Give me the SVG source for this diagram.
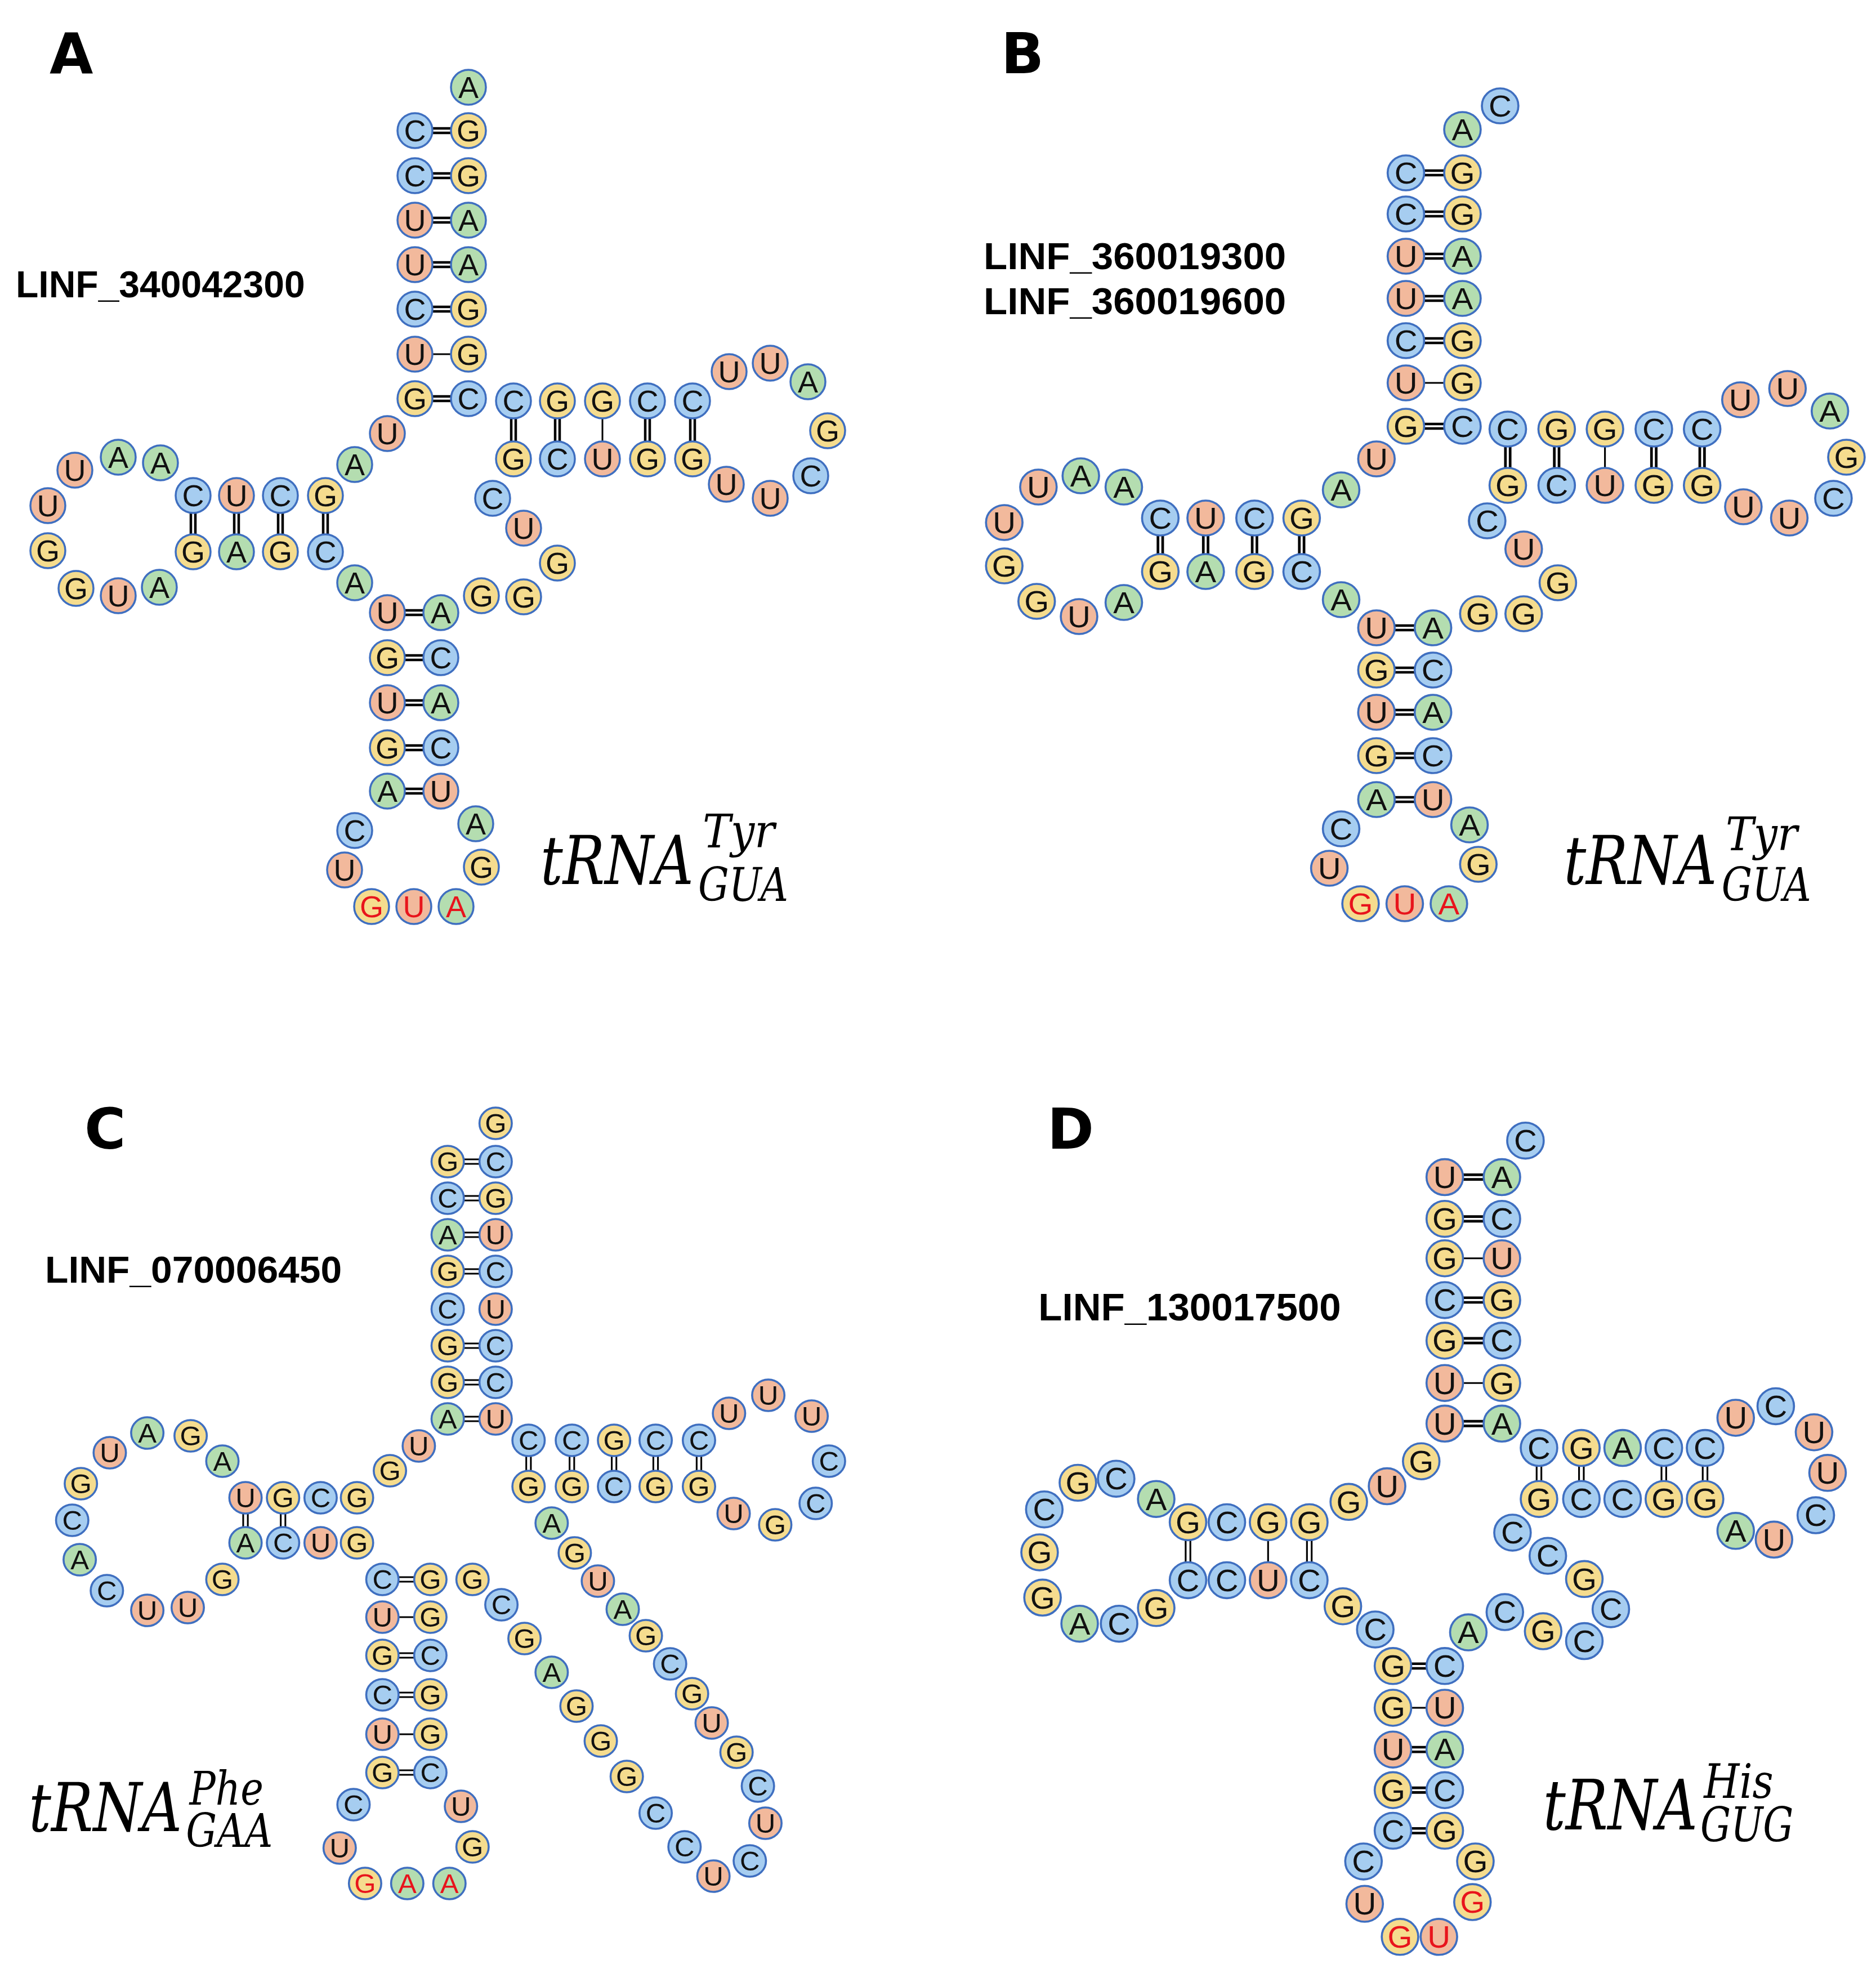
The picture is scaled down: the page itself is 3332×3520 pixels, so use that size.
<svg xmlns="http://www.w3.org/2000/svg" width="3332" height="3520" viewBox="0 0 3332 3520">
<style>
circle{stroke:#3f6fc0;stroke-width:3.5}
.nA{fill:#b4ddb0}.nC{fill:#a6cdf0}.nG{fill:#f5dc8e}.nU{fill:#f2b99c}
.n text{font-family:"Liberation Sans",Arial,sans-serif;font-size:54px;text-anchor:middle;dominant-baseline:central;fill:#111}
.n text.r{fill:#e8141c}
.cP text{font-size:48px}
.bd{stroke:#000;stroke-width:4.5;fill:none}
.bs{stroke:#000;stroke-width:3;fill:none}
.lab{font-family:"DejaVu Sans","Liberation Sans",sans-serif;font-weight:bold;font-size:100px;fill:#000}
.id{font-family:"Liberation Sans",Arial,sans-serif;font-weight:bold;font-size:66px;fill:#000}
.t{font-family:"DejaVu Serif","Liberation Serif",serif;font-style:italic;fill:#000}
</style>
<rect width="3332" height="3520" fill="#fff"/>
<text class="lab" x="88" y="130">A</text>
<text class="lab" x="1778" y="130">B</text>
<text class="lab" x="150" y="2040">C</text>
<text class="lab" x="1860" y="2040">D</text>

<!-- Panel A -->
<g transform="translate(0,100)">
<text class="id" x="28" y="428">LINF_340042300</text>
<text class="t" x="960" y="1470" font-size="120" textLength="272" lengthAdjust="spacingAndGlyphs">tRNA</text>
<text class="t" x="1248" y="1405" font-size="82" textLength="128" lengthAdjust="spacingAndGlyphs">Tyr</text>
<text class="t" x="1240" y="1500" font-size="82" textLength="160" lengthAdjust="spacingAndGlyphs">GUA</text>
<g id="connectorsA">
<path class="bd" d="M768 128H801M768 136H801M768 208H801M768 216H801M768 287H801M768 295H801M768 366H801M768 374H801M768 445H801M768 453H801M768 604H801M768 612H801"/>
<path class="bs" d="M768 529H801"/>
<path class="bd" d="M339 811V849M347 811V849M416 811V849M424 811V849M494 811V849M502 811V849M574 811V849M582 811V849"/>
<path class="bd" d="M719 984H752M719 992H752M719 1064H752M719 1072H752M719 1144H752M719 1152H752M719 1224H752M719 1232H752M719 1301H752M719 1309H752"/>
<path class="bd" d="M908 643V684M916 643V684M986 643V684M994 643V684M1146 643V684M1154 643V684M1226 643V684M1234 643V684"/>
<path class="bs" d="M1070 643V684"/>
</g>
<g class="n">
<g id="a0"><circle class="nA" cx="832" cy="55" r="31"/><text x="832" y="55">A</text></g>
<g id="a1"><circle class="nC" cx="737" cy="132" r="31"/><text x="737" y="132">C</text></g>
<g id="a2"><circle class="nC" cx="737" cy="212" r="31"/><text x="737" y="212">C</text></g>
<g id="a3"><circle class="nU" cx="737" cy="291" r="31"/><text x="737" y="291">U</text></g>
<g id="a4"><circle class="nU" cx="737" cy="370" r="31"/><text x="737" y="370">U</text></g>
<g id="a5"><circle class="nC" cx="737" cy="449" r="31"/><text x="737" y="449">C</text></g>
<g id="a6"><circle class="nU" cx="737" cy="529" r="31"/><text x="737" y="529">U</text></g>
<g id="a7"><circle class="nG" cx="737" cy="608" r="31"/><text x="737" y="608">G</text></g>
<g id="a8"><circle class="nG" cx="832" cy="132" r="31"/><text x="832" y="132">G</text></g>
<g id="a9"><circle class="nG" cx="832" cy="212" r="31"/><text x="832" y="212">G</text></g>
<g id="a10"><circle class="nA" cx="832" cy="291" r="31"/><text x="832" y="291">A</text></g>
<g id="a11"><circle class="nA" cx="832" cy="370" r="31"/><text x="832" y="370">A</text></g>
<g id="a12"><circle class="nG" cx="832" cy="449" r="31"/><text x="832" y="449">G</text></g>
<g id="a13"><circle class="nG" cx="832" cy="529" r="31"/><text x="832" y="529">G</text></g>
<g id="a14"><circle class="nC" cx="832" cy="608" r="31"/><text x="832" y="608">C</text></g>
<g id="a15"><circle class="nU" cx="688" cy="670" r="31"/><text x="688" y="670">U</text></g>
<g id="a16"><circle class="nA" cx="630" cy="725" r="31"/><text x="630" y="725">A</text></g>
<g id="a17"><circle class="nC" cx="343" cy="780" r="31"/><text x="343" y="780">C</text></g>
<g id="a18"><circle class="nU" cx="420" cy="780" r="31"/><text x="420" y="780">U</text></g>
<g id="a19"><circle class="nC" cx="498" cy="780" r="31"/><text x="498" y="780">C</text></g>
<g id="a20"><circle class="nG" cx="578" cy="780" r="31"/><text x="578" y="780">G</text></g>
<g id="a21"><circle class="nG" cx="343" cy="880" r="31"/><text x="343" y="880">G</text></g>
<g id="a22"><circle class="nA" cx="420" cy="880" r="31"/><text x="420" y="880">A</text></g>
<g id="a23"><circle class="nG" cx="498" cy="880" r="31"/><text x="498" y="880">G</text></g>
<g id="a24"><circle class="nC" cx="578" cy="880" r="31"/><text x="578" y="880">C</text></g>
<g id="a25"><circle class="nA" cx="285" cy="722" r="31"/><text x="285" y="722">A</text></g>
<g id="a26"><circle class="nA" cx="210" cy="712" r="31"/><text x="210" y="712">A</text></g>
<g id="a27"><circle class="nU" cx="133" cy="735" r="31"/><text x="133" y="735">U</text></g>
<g id="a28"><circle class="nU" cx="85" cy="798" r="31"/><text x="85" y="798">U</text></g>
<g id="a29"><circle class="nG" cx="85" cy="878" r="31"/><text x="85" y="878">G</text></g>
<g id="a30"><circle class="nG" cx="135" cy="945" r="31"/><text x="135" y="945">G</text></g>
<g id="a31"><circle class="nU" cx="210" cy="958" r="31"/><text x="210" y="958">U</text></g>
<g id="a32"><circle class="nA" cx="283" cy="943" r="31"/><text x="283" y="943">A</text></g>
<g id="a33"><circle class="nA" cx="630" cy="935" r="31"/><text x="630" y="935">A</text></g>
<g id="a34"><circle class="nU" cx="688" cy="988" r="31"/><text x="688" y="988">U</text></g>
<g id="a35"><circle class="nG" cx="688" cy="1068" r="31"/><text x="688" y="1068">G</text></g>
<g id="a36"><circle class="nU" cx="688" cy="1148" r="31"/><text x="688" y="1148">U</text></g>
<g id="a37"><circle class="nG" cx="688" cy="1228" r="31"/><text x="688" y="1228">G</text></g>
<g id="a38"><circle class="nA" cx="688" cy="1305" r="31"/><text x="688" y="1305">A</text></g>
<g id="a39"><circle class="nA" cx="783" cy="988" r="31"/><text x="783" y="988">A</text></g>
<g id="a40"><circle class="nC" cx="783" cy="1068" r="31"/><text x="783" y="1068">C</text></g>
<g id="a41"><circle class="nA" cx="783" cy="1148" r="31"/><text x="783" y="1148">A</text></g>
<g id="a42"><circle class="nC" cx="783" cy="1228" r="31"/><text x="783" y="1228">C</text></g>
<g id="a43"><circle class="nU" cx="783" cy="1305" r="31"/><text x="783" y="1305">U</text></g>
<g id="a44"><circle class="nC" cx="630" cy="1375" r="31"/><text x="630" y="1375">C</text></g>
<g id="a45"><circle class="nU" cx="612" cy="1445" r="31"/><text x="612" y="1445">U</text></g>
<g id="a46"><circle class="nG" cx="660" cy="1510" r="31"/><text class="r" x="660" y="1510">G</text></g>
<g id="a47"><circle class="nU" cx="735" cy="1510" r="31"/><text class="r" x="735" y="1510">U</text></g>
<g id="a48"><circle class="nA" cx="810" cy="1510" r="31"/><text class="r" x="810" y="1510">A</text></g>
<g id="a49"><circle class="nG" cx="855" cy="1440" r="31"/><text x="855" y="1440">G</text></g>
<g id="a50"><circle class="nA" cx="845" cy="1363" r="31"/><text x="845" y="1363">A</text></g>
<g id="a51"><circle class="nG" cx="855" cy="958" r="31"/><text x="855" y="958">G</text></g>
<g id="a52"><circle class="nG" cx="930" cy="960" r="31"/><text x="930" y="960">G</text></g>
<g id="a53"><circle class="nG" cx="990" cy="900" r="31"/><text x="990" y="900">G</text></g>
<g id="a54"><circle class="nU" cx="930" cy="838" r="31"/><text x="930" y="838">U</text></g>
<g id="a55"><circle class="nC" cx="875" cy="785" r="31"/><text x="875" y="785">C</text></g>
<g id="a56"><circle class="nC" cx="912" cy="612" r="31"/><text x="912" y="612">C</text></g>
<g id="a57"><circle class="nG" cx="990" cy="612" r="31"/><text x="990" y="612">G</text></g>
<g id="a58"><circle class="nG" cx="1070" cy="612" r="31"/><text x="1070" y="612">G</text></g>
<g id="a59"><circle class="nC" cx="1150" cy="612" r="31"/><text x="1150" y="612">C</text></g>
<g id="a60"><circle class="nC" cx="1230" cy="612" r="31"/><text x="1230" y="612">C</text></g>
<g id="a61"><circle class="nG" cx="912" cy="715" r="31"/><text x="912" y="715">G</text></g>
<g id="a62"><circle class="nC" cx="990" cy="715" r="31"/><text x="990" y="715">C</text></g>
<g id="a63"><circle class="nU" cx="1070" cy="715" r="31"/><text x="1070" y="715">U</text></g>
<g id="a64"><circle class="nG" cx="1150" cy="715" r="31"/><text x="1150" y="715">G</text></g>
<g id="a65"><circle class="nG" cx="1230" cy="715" r="31"/><text x="1230" y="715">G</text></g>
<g id="a66"><circle class="nU" cx="1295" cy="560" r="31"/><text x="1295" y="560">U</text></g>
<g id="a67"><circle class="nU" cx="1368" cy="545" r="31"/><text x="1368" y="545">U</text></g>
<g id="a68"><circle class="nA" cx="1435" cy="578" r="31"/><text x="1435" y="578">A</text></g>
<g id="a69"><circle class="nG" cx="1470" cy="665" r="31"/><text x="1470" y="665">G</text></g>
<g id="a70"><circle class="nC" cx="1440" cy="745" r="31"/><text x="1440" y="745">C</text></g>
<g id="a71"><circle class="nU" cx="1368" cy="785" r="31"/><text x="1368" y="785">U</text></g>
<g id="a72"><circle class="nU" cx="1290" cy="760" r="31"/><text x="1290" y="760">U</text></g>
</g>
</g>

<!-- Panel B -->
<g transform="translate(1700,100) scale(1.046,1)">
<text class="id" x="45" y="378">LINF_360019300</text>
<text class="id" x="45" y="458">LINF_360019600</text>
<text class="t" x="1030" y="1470" font-size="120" textLength="260" lengthAdjust="spacingAndGlyphs">tRNA</text>
<text class="t" x="1305" y="1410" font-size="82" textLength="122" lengthAdjust="spacingAndGlyphs">Tyr</text>
<text class="t" x="1298" y="1500" font-size="82" textLength="152" lengthAdjust="spacingAndGlyphs">GUA</text>
<g id="connectorsB">
<path class="bd" d="M793 203H827M793 211H827M793 276H827M793 284H827M793 351H827M793 359H827M793 426H827M793 434H827M793 501H827M793 509H827M793 653H827M793 661H827"/>
<path class="bs" d="M793 580H827"/>
<path class="bd" d="M341 851V884M349 851V884M418 851V884M426 851V884M501 851V884M509 851V884M581 851V884M589 851V884"/>
<path class="bd" d="M743 1011H777M743 1019H777M743 1086H777M743 1094H777M743 1161H777M743 1169H777M743 1238H777M743 1246H777M743 1316H777M743 1324H777"/>
<path class="bd" d="M931 693V731M939 693V731M1014 693V731M1022 693V731M1179 693V731M1187 693V731M1261 693V731M1269 693V731"/>
<path class="bs" d="M1100 693V731"/>
</g>
<g class="n">
<g id="b0"><circle class="nC" cx="922" cy="88" r="31"/><text x="922" y="88">C</text></g>
<g id="b1"><circle class="nA" cx="858" cy="130" r="31"/><text x="858" y="130">A</text></g>
<g id="b2"><circle class="nC" cx="762" cy="207" r="31"/><text x="762" y="207">C</text></g>
<g id="b3"><circle class="nC" cx="762" cy="280" r="31"/><text x="762" y="280">C</text></g>
<g id="b4"><circle class="nU" cx="762" cy="355" r="31"/><text x="762" y="355">U</text></g>
<g id="b5"><circle class="nU" cx="762" cy="430" r="31"/><text x="762" y="430">U</text></g>
<g id="b6"><circle class="nC" cx="762" cy="505" r="31"/><text x="762" y="505">C</text></g>
<g id="b7"><circle class="nU" cx="762" cy="580" r="31"/><text x="762" y="580">U</text></g>
<g id="b8"><circle class="nG" cx="762" cy="657" r="31"/><text x="762" y="657">G</text></g>
<g id="b9"><circle class="nG" cx="858" cy="207" r="31"/><text x="858" y="207">G</text></g>
<g id="b10"><circle class="nG" cx="858" cy="280" r="31"/><text x="858" y="280">G</text></g>
<g id="b11"><circle class="nA" cx="858" cy="355" r="31"/><text x="858" y="355">A</text></g>
<g id="b12"><circle class="nA" cx="858" cy="430" r="31"/><text x="858" y="430">A</text></g>
<g id="b13"><circle class="nG" cx="858" cy="505" r="31"/><text x="858" y="505">G</text></g>
<g id="b14"><circle class="nG" cx="858" cy="580" r="31"/><text x="858" y="580">G</text></g>
<g id="b15"><circle class="nC" cx="858" cy="657" r="31"/><text x="858" y="657">C</text></g>
<g id="b16"><circle class="nU" cx="712" cy="715" r="31"/><text x="712" y="715">U</text></g>
<g id="b17"><circle class="nA" cx="652" cy="770" r="31"/><text x="652" y="770">A</text></g>
<g id="b18"><circle class="nC" cx="345" cy="820" r="31"/><text x="345" y="820">C</text></g>
<g id="b19"><circle class="nU" cx="422" cy="820" r="31"/><text x="422" y="820">U</text></g>
<g id="b20"><circle class="nC" cx="505" cy="820" r="31"/><text x="505" y="820">C</text></g>
<g id="b21"><circle class="nG" cx="585" cy="820" r="31"/><text x="585" y="820">G</text></g>
<g id="b22"><circle class="nG" cx="345" cy="915" r="31"/><text x="345" y="915">G</text></g>
<g id="b23"><circle class="nA" cx="422" cy="915" r="31"/><text x="422" y="915">A</text></g>
<g id="b24"><circle class="nG" cx="505" cy="915" r="31"/><text x="505" y="915">G</text></g>
<g id="b25"><circle class="nC" cx="585" cy="915" r="31"/><text x="585" y="915">C</text></g>
<g id="b26"><circle class="nA" cx="283" cy="765" r="31"/><text x="283" y="765">A</text></g>
<g id="b27"><circle class="nA" cx="210" cy="745" r="31"/><text x="210" y="745">A</text></g>
<g id="b28"><circle class="nU" cx="138" cy="765" r="31"/><text x="138" y="765">U</text></g>
<g id="b29"><circle class="nU" cx="80" cy="828" r="31"/><text x="80" y="828">U</text></g>
<g id="b30"><circle class="nG" cx="80" cy="905" r="31"/><text x="80" y="905">G</text></g>
<g id="b31"><circle class="nG" cx="135" cy="968" r="31"/><text x="135" y="968">G</text></g>
<g id="b32"><circle class="nU" cx="207" cy="995" r="31"/><text x="207" y="995">U</text></g>
<g id="b33"><circle class="nA" cx="283" cy="970" r="31"/><text x="283" y="970">A</text></g>
<g id="b34"><circle class="nA" cx="652" cy="965" r="31"/><text x="652" y="965">A</text></g>
<g id="b35"><circle class="nU" cx="712" cy="1015" r="31"/><text x="712" y="1015">U</text></g>
<g id="b36"><circle class="nG" cx="712" cy="1090" r="31"/><text x="712" y="1090">G</text></g>
<g id="b37"><circle class="nU" cx="712" cy="1165" r="31"/><text x="712" y="1165">U</text></g>
<g id="b38"><circle class="nG" cx="712" cy="1242" r="31"/><text x="712" y="1242">G</text></g>
<g id="b39"><circle class="nA" cx="712" cy="1320" r="31"/><text x="712" y="1320">A</text></g>
<g id="b40"><circle class="nA" cx="808" cy="1015" r="31"/><text x="808" y="1015">A</text></g>
<g id="b41"><circle class="nC" cx="808" cy="1090" r="31"/><text x="808" y="1090">C</text></g>
<g id="b42"><circle class="nA" cx="808" cy="1165" r="31"/><text x="808" y="1165">A</text></g>
<g id="b43"><circle class="nC" cx="808" cy="1242" r="31"/><text x="808" y="1242">C</text></g>
<g id="b44"><circle class="nU" cx="808" cy="1320" r="31"/><text x="808" y="1320">U</text></g>
<g id="b45"><circle class="nC" cx="652" cy="1372" r="31"/><text x="652" y="1372">C</text></g>
<g id="b46"><circle class="nU" cx="632" cy="1442" r="31"/><text x="632" y="1442">U</text></g>
<g id="b47"><circle class="nG" cx="685" cy="1505" r="31"/><text class="r" x="685" y="1505">G</text></g>
<g id="b48"><circle class="nU" cx="760" cy="1505" r="31"/><text class="r" x="760" y="1505">U</text></g>
<g id="b49"><circle class="nA" cx="835" cy="1505" r="31"/><text class="r" x="835" y="1505">A</text></g>
<g id="b50"><circle class="nG" cx="885" cy="1435" r="31"/><text x="885" y="1435">G</text></g>
<g id="b51"><circle class="nA" cx="870" cy="1365" r="31"/><text x="870" y="1365">A</text></g>
<g id="b52"><circle class="nG" cx="885" cy="990" r="31"/><text x="885" y="990">G</text></g>
<g id="b53"><circle class="nG" cx="962" cy="990" r="31"/><text x="962" y="990">G</text></g>
<g id="b54"><circle class="nG" cx="1020" cy="935" r="31"/><text x="1020" y="935">G</text></g>
<g id="b55"><circle class="nU" cx="962" cy="875" r="31"/><text x="962" y="875">U</text></g>
<g id="b56"><circle class="nC" cx="900" cy="825" r="31"/><text x="900" y="825">C</text></g>
<g id="b57"><circle class="nC" cx="935" cy="662" r="31"/><text x="935" y="662">C</text></g>
<g id="b58"><circle class="nG" cx="1018" cy="662" r="31"/><text x="1018" y="662">G</text></g>
<g id="b59"><circle class="nG" cx="1100" cy="662" r="31"/><text x="1100" y="662">G</text></g>
<g id="b60"><circle class="nC" cx="1183" cy="662" r="31"/><text x="1183" y="662">C</text></g>
<g id="b61"><circle class="nC" cx="1265" cy="662" r="31"/><text x="1265" y="662">C</text></g>
<g id="b62"><circle class="nG" cx="935" cy="762" r="31"/><text x="935" y="762">G</text></g>
<g id="b63"><circle class="nC" cx="1018" cy="762" r="31"/><text x="1018" y="762">C</text></g>
<g id="b64"><circle class="nU" cx="1100" cy="762" r="31"/><text x="1100" y="762">U</text></g>
<g id="b65"><circle class="nG" cx="1183" cy="762" r="31"/><text x="1183" y="762">G</text></g>
<g id="b66"><circle class="nG" cx="1265" cy="762" r="31"/><text x="1265" y="762">G</text></g>
<g id="b67"><circle class="nU" cx="1330" cy="610" r="31"/><text x="1330" y="610">U</text></g>
<g id="b68"><circle class="nU" cx="1410" cy="590" r="31"/><text x="1410" y="590">U</text></g>
<g id="b69"><circle class="nA" cx="1482" cy="630" r="31"/><text x="1482" y="630">A</text></g>
<g id="b70"><circle class="nG" cx="1510" cy="712" r="31"/><text x="1510" y="712">G</text></g>
<g id="b71"><circle class="nC" cx="1488" cy="785" r="31"/><text x="1488" y="785">C</text></g>
<g id="b72"><circle class="nU" cx="1413" cy="820" r="31"/><text x="1413" y="820">U</text></g>
<g id="b73"><circle class="nU" cx="1335" cy="800" r="31"/><text x="1335" y="800">U</text></g>
</g>
</g>

<!-- Panel C -->
<g transform="translate(0,1900) scale(1.026,1)">
<text class="id" x="78" y="378">LINF_070006450</text>
<text class="t" x="50" y="1352" font-size="120" textLength="265" lengthAdjust="spacingAndGlyphs">tRNA</text>
<text class="t" x="328" y="1305" font-size="82" textLength="128" lengthAdjust="spacingAndGlyphs">Phe</text>
<text class="t" x="322" y="1380" font-size="82" textLength="150" lengthAdjust="spacingAndGlyphs">GAA</text>
<g id="connectorsC">
<path class="bs" d="M804 159H830M804 167H830M804 224H830M804 232H830M804 289H830M804 297H830M804 354H830M804 362H830M804 486H830M804 494H830M804 551H830M804 559H830M804 616H830M804 624H830"/>
<path class="bs" d="M421 789V811M429 789V811M486 789V811M494 789V811"/>
<path class="bs" d="M691 901H717M691 909H717M691 1036H717M691 1044H717M691 1106H717M691 1114H717M691 1244H717M691 1252H717M691 972H717M691 1180H717"/>
<path class="bs" d="M911 687V711M919 687V711M986 687V711M994 687V711M1059 687V711M1067 687V711M1131 687V711M1139 687V711M1206 687V711M1214 687V711"/>
</g>
<g class="n cP">
<g id="c0"><circle class="nG" cx="858" cy="95" r="28"/><text x="858" y="95">G</text></g>
<g id="c1"><circle class="nG" cx="775" cy="163" r="28"/><text x="775" y="163">G</text></g>
<g id="c2"><circle class="nC" cx="775" cy="228" r="28"/><text x="775" y="228">C</text></g>
<g id="c3"><circle class="nA" cx="775" cy="293" r="28"/><text x="775" y="293">A</text></g>
<g id="c4"><circle class="nG" cx="775" cy="358" r="28"/><text x="775" y="358">G</text></g>
<g id="c5"><circle class="nC" cx="775" cy="425" r="28"/><text x="775" y="425">C</text></g>
<g id="c6"><circle class="nG" cx="775" cy="490" r="28"/><text x="775" y="490">G</text></g>
<g id="c7"><circle class="nG" cx="775" cy="555" r="28"/><text x="775" y="555">G</text></g>
<g id="c8"><circle class="nA" cx="775" cy="620" r="28"/><text x="775" y="620">A</text></g>
<g id="c9"><circle class="nC" cx="858" cy="163" r="28"/><text x="858" y="163">C</text></g>
<g id="c10"><circle class="nG" cx="858" cy="228" r="28"/><text x="858" y="228">G</text></g>
<g id="c11"><circle class="nU" cx="858" cy="293" r="28"/><text x="858" y="293">U</text></g>
<g id="c12"><circle class="nC" cx="858" cy="358" r="28"/><text x="858" y="358">C</text></g>
<g id="c13"><circle class="nU" cx="858" cy="425" r="28"/><text x="858" y="425">U</text></g>
<g id="c14"><circle class="nC" cx="858" cy="490" r="28"/><text x="858" y="490">C</text></g>
<g id="c15"><circle class="nC" cx="858" cy="555" r="28"/><text x="858" y="555">C</text></g>
<g id="c16"><circle class="nU" cx="858" cy="620" r="28"/><text x="858" y="620">U</text></g>
<g id="c17"><circle class="nU" cx="725" cy="668" r="28"/><text x="725" y="668">U</text></g>
<g id="c18"><circle class="nG" cx="675" cy="712" r="28"/><text x="675" y="712">G</text></g>
<g id="c19"><circle class="nU" cx="425" cy="760" r="28"/><text x="425" y="760">U</text></g>
<g id="c20"><circle class="nG" cx="490" cy="760" r="28"/><text x="490" y="760">G</text></g>
<g id="c21"><circle class="nC" cx="555" cy="760" r="28"/><text x="555" y="760">C</text></g>
<g id="c22"><circle class="nG" cx="618" cy="760" r="28"/><text x="618" y="760">G</text></g>
<g id="c23"><circle class="nA" cx="425" cy="840" r="28"/><text x="425" y="840">A</text></g>
<g id="c24"><circle class="nC" cx="490" cy="840" r="28"/><text x="490" y="840">C</text></g>
<g id="c25"><circle class="nU" cx="555" cy="840" r="28"/><text x="555" y="840">U</text></g>
<g id="c26"><circle class="nG" cx="618" cy="840" r="28"/><text x="618" y="840">G</text></g>
<g id="c27"><circle class="nA" cx="385" cy="695" r="28"/><text x="385" y="695">A</text></g>
<g id="c28"><circle class="nG" cx="330" cy="650" r="28"/><text x="330" y="650">G</text></g>
<g id="c29"><circle class="nA" cx="255" cy="645" r="28"/><text x="255" y="645">A</text></g>
<g id="c30"><circle class="nU" cx="190" cy="680" r="28"/><text x="190" y="680">U</text></g>
<g id="c31"><circle class="nG" cx="140" cy="735" r="28"/><text x="140" y="735">G</text></g>
<g id="c32"><circle class="nC" cx="125" cy="800" r="28"/><text x="125" y="800">C</text></g>
<g id="c33"><circle class="nA" cx="138" cy="870" r="28"/><text x="138" y="870">A</text></g>
<g id="c34"><circle class="nC" cx="185" cy="925" r="28"/><text x="185" y="925">C</text></g>
<g id="c35"><circle class="nU" cx="255" cy="960" r="28"/><text x="255" y="960">U</text></g>
<g id="c36"><circle class="nU" cx="325" cy="955" r="28"/><text x="325" y="955">U</text></g>
<g id="c37"><circle class="nG" cx="385" cy="905" r="28"/><text x="385" y="905">G</text></g>
<g id="c38"><circle class="nC" cx="662" cy="905" r="28"/><text x="662" y="905">C</text></g>
<g id="c39"><circle class="nU" cx="662" cy="972" r="28"/><text x="662" y="972">U</text></g>
<g id="c40"><circle class="nG" cx="662" cy="1040" r="28"/><text x="662" y="1040">G</text></g>
<g id="c41"><circle class="nC" cx="662" cy="1110" r="28"/><text x="662" y="1110">C</text></g>
<g id="c42"><circle class="nU" cx="662" cy="1180" r="28"/><text x="662" y="1180">U</text></g>
<g id="c43"><circle class="nG" cx="662" cy="1248" r="28"/><text x="662" y="1248">G</text></g>
<g id="c44"><circle class="nG" cx="745" cy="905" r="28"/><text x="745" y="905">G</text></g>
<g id="c45"><circle class="nG" cx="745" cy="972" r="28"/><text x="745" y="972">G</text></g>
<g id="c46"><circle class="nC" cx="745" cy="1040" r="28"/><text x="745" y="1040">C</text></g>
<g id="c47"><circle class="nG" cx="745" cy="1110" r="28"/><text x="745" y="1110">G</text></g>
<g id="c48"><circle class="nG" cx="745" cy="1180" r="28"/><text x="745" y="1180">G</text></g>
<g id="c49"><circle class="nC" cx="745" cy="1248" r="28"/><text x="745" y="1248">C</text></g>
<g id="c50"><circle class="nC" cx="612" cy="1305" r="28"/><text x="612" y="1305">C</text></g>
<g id="c51"><circle class="nU" cx="588" cy="1382" r="28"/><text x="588" y="1382">U</text></g>
<g id="c52"><circle class="nG" cx="632" cy="1445" r="28"/><text class="r" x="632" y="1445">G</text></g>
<g id="c53"><circle class="nA" cx="705" cy="1445" r="28"/><text class="r" x="705" y="1445">A</text></g>
<g id="c54"><circle class="nA" cx="778" cy="1445" r="28"/><text class="r" x="778" y="1445">A</text></g>
<g id="c55"><circle class="nG" cx="818" cy="1380" r="28"/><text x="818" y="1380">G</text></g>
<g id="c56"><circle class="nU" cx="798" cy="1308" r="28"/><text x="798" y="1308">U</text></g>
<g id="c57"><circle class="nG" cx="818" cy="905" r="28"/><text x="818" y="905">G</text></g>
<g id="c58"><circle class="nC" cx="868" cy="950" r="28"/><text x="868" y="950">C</text></g>
<g id="c59"><circle class="nG" cx="908" cy="1010" r="28"/><text x="908" y="1010">G</text></g>
<g id="c60"><circle class="nA" cx="955" cy="1070" r="28"/><text x="955" y="1070">A</text></g>
<g id="c61"><circle class="nG" cx="998" cy="1130" r="28"/><text x="998" y="1130">G</text></g>
<g id="c62"><circle class="nG" cx="1040" cy="1192" r="28"/><text x="1040" y="1192">G</text></g>
<g id="c63"><circle class="nG" cx="1085" cy="1255" r="28"/><text x="1085" y="1255">G</text></g>
<g id="c64"><circle class="nC" cx="1135" cy="1320" r="28"/><text x="1135" y="1320">C</text></g>
<g id="c65"><circle class="nC" cx="1185" cy="1380" r="28"/><text x="1185" y="1380">C</text></g>
<g id="c66"><circle class="nU" cx="1235" cy="1432" r="28"/><text x="1235" y="1432">U</text></g>
<g id="c67"><circle class="nC" cx="1298" cy="1405" r="28"/><text x="1298" y="1405">C</text></g>
<g id="c68"><circle class="nU" cx="1325" cy="1338" r="28"/><text x="1325" y="1338">U</text></g>
<g id="c69"><circle class="nC" cx="1312" cy="1272" r="28"/><text x="1312" y="1272">C</text></g>
<g id="c70"><circle class="nG" cx="1275" cy="1212" r="28"/><text x="1275" y="1212">G</text></g>
<g id="c71"><circle class="nU" cx="1232" cy="1160" r="28"/><text x="1232" y="1160">U</text></g>
<g id="c72"><circle class="nG" cx="1198" cy="1108" r="28"/><text x="1198" y="1108">G</text></g>
<g id="c73"><circle class="nC" cx="1160" cy="1055" r="28"/><text x="1160" y="1055">C</text></g>
<g id="c74"><circle class="nG" cx="1118" cy="1005" r="28"/><text x="1118" y="1005">G</text></g>
<g id="c75"><circle class="nA" cx="1078" cy="958" r="28"/><text x="1078" y="958">A</text></g>
<g id="c76"><circle class="nU" cx="1035" cy="908" r="28"/><text x="1035" y="908">U</text></g>
<g id="c77"><circle class="nG" cx="995" cy="858" r="28"/><text x="995" y="858">G</text></g>
<g id="c78"><circle class="nA" cx="955" cy="805" r="28"/><text x="955" y="805">A</text></g>
<g id="c79"><circle class="nC" cx="915" cy="658" r="28"/><text x="915" y="658">C</text></g>
<g id="c80"><circle class="nC" cx="990" cy="658" r="28"/><text x="990" y="658">C</text></g>
<g id="c81"><circle class="nG" cx="1063" cy="658" r="28"/><text x="1063" y="658">G</text></g>
<g id="c82"><circle class="nC" cx="1135" cy="658" r="28"/><text x="1135" y="658">C</text></g>
<g id="c83"><circle class="nC" cx="1210" cy="658" r="28"/><text x="1210" y="658">C</text></g>
<g id="c84"><circle class="nG" cx="915" cy="740" r="28"/><text x="915" y="740">G</text></g>
<g id="c85"><circle class="nG" cx="990" cy="740" r="28"/><text x="990" y="740">G</text></g>
<g id="c86"><circle class="nC" cx="1063" cy="740" r="28"/><text x="1063" y="740">C</text></g>
<g id="c87"><circle class="nG" cx="1135" cy="740" r="28"/><text x="1135" y="740">G</text></g>
<g id="c88"><circle class="nG" cx="1210" cy="740" r="28"/><text x="1210" y="740">G</text></g>
<g id="c89"><circle class="nU" cx="1262" cy="610" r="28"/><text x="1262" y="610">U</text></g>
<g id="c90"><circle class="nU" cx="1330" cy="578" r="28"/><text x="1330" y="578">U</text></g>
<g id="c91"><circle class="nU" cx="1405" cy="615" r="28"/><text x="1405" y="615">U</text></g>
<g id="c92"><circle class="nC" cx="1435" cy="695" r="28"/><text x="1435" y="695">C</text></g>
<g id="c93"><circle class="nC" cx="1412" cy="770" r="28"/><text x="1412" y="770">C</text></g>
<g id="c94"><circle class="nG" cx="1342" cy="808" r="28"/><text x="1342" y="808">G</text></g>
<g id="c95"><circle class="nU" cx="1270" cy="788" r="28"/><text x="1270" y="788">U</text></g>
</g>
</g>

<!-- Panel D -->
<g transform="translate(1700,1900) scale(1.046,1.03)">
<text class="id" x="138" y="432">LINF_130017500</text>
<text class="t" x="995" y="1310" font-size="120" textLength="262" lengthAdjust="spacingAndGlyphs">tRNA</text>
<text class="t" x="1268" y="1255" font-size="82" textLength="118" lengthAdjust="spacingAndGlyphs">His</text>
<text class="t" x="1262" y="1330" font-size="82" textLength="158" lengthAdjust="spacingAndGlyphs">GUG</text>
<g id="connectorsD">
<path class="bd" d="M859 181H894M859 189H894M859 253H894M859 261H894M859 393H894M859 401H894M859 463H894M859 471H894M859 606H894M859 614H894"/>
<path class="bs" d="M859 325H894M859 540H894"/>
<path class="bs" d="M388 811V849M396 811V849M594 811V849M602 811V849M528 811V849"/>
<path class="bd" d="M771 1024H797M771 1032H797M771 1168H797M771 1176H797M771 1238H797M771 1246H797M771 1308H797M771 1316H797"/>
<path class="bs" d="M771 1100H797"/>
<path class="bs" d="M984 683V709M992 683V709M1056 683V709M1064 683V709M1196 683V709M1204 683V709M1266 683V709M1274 683V709"/>
</g>
<g class="n">
<g id="d0"><circle class="nC" cx="965" cy="122" r="31"/><text x="965" y="122">C</text></g>
<g id="d1"><circle class="nU" cx="828" cy="185" r="31"/><text x="828" y="185">U</text></g>
<g id="d2"><circle class="nG" cx="828" cy="257" r="31"/><text x="828" y="257">G</text></g>
<g id="d3"><circle class="nG" cx="828" cy="325" r="31"/><text x="828" y="325">G</text></g>
<g id="d4"><circle class="nC" cx="828" cy="397" r="31"/><text x="828" y="397">C</text></g>
<g id="d5"><circle class="nG" cx="828" cy="467" r="31"/><text x="828" y="467">G</text></g>
<g id="d6"><circle class="nU" cx="828" cy="540" r="31"/><text x="828" y="540">U</text></g>
<g id="d7"><circle class="nU" cx="828" cy="610" r="31"/><text x="828" y="610">U</text></g>
<g id="d8"><circle class="nA" cx="925" cy="185" r="31"/><text x="925" y="185">A</text></g>
<g id="d9"><circle class="nC" cx="925" cy="257" r="31"/><text x="925" y="257">C</text></g>
<g id="d10"><circle class="nU" cx="925" cy="325" r="31"/><text x="925" y="325">U</text></g>
<g id="d11"><circle class="nG" cx="925" cy="397" r="31"/><text x="925" y="397">G</text></g>
<g id="d12"><circle class="nC" cx="925" cy="467" r="31"/><text x="925" y="467">C</text></g>
<g id="d13"><circle class="nG" cx="925" cy="540" r="31"/><text x="925" y="540">G</text></g>
<g id="d14"><circle class="nA" cx="925" cy="610" r="31"/><text x="925" y="610">A</text></g>
<g id="d15"><circle class="nG" cx="788" cy="675" r="31"/><text x="788" y="675">G</text></g>
<g id="d16"><circle class="nU" cx="730" cy="718" r="31"/><text x="730" y="718">U</text></g>
<g id="d17"><circle class="nG" cx="665" cy="745" r="31"/><text x="665" y="745">G</text></g>
<g id="d18"><circle class="nG" cx="392" cy="780" r="31"/><text x="392" y="780">G</text></g>
<g id="d19"><circle class="nC" cx="458" cy="780" r="31"/><text x="458" y="780">C</text></g>
<g id="d20"><circle class="nG" cx="528" cy="780" r="31"/><text x="528" y="780">G</text></g>
<g id="d21"><circle class="nG" cx="598" cy="780" r="31"/><text x="598" y="780">G</text></g>
<g id="d22"><circle class="nC" cx="392" cy="880" r="31"/><text x="392" y="880">C</text></g>
<g id="d23"><circle class="nC" cx="458" cy="880" r="31"/><text x="458" y="880">C</text></g>
<g id="d24"><circle class="nU" cx="528" cy="880" r="31"/><text x="528" y="880">U</text></g>
<g id="d25"><circle class="nC" cx="598" cy="880" r="31"/><text x="598" y="880">C</text></g>
<g id="d26"><circle class="nA" cx="338" cy="740" r="31"/><text x="338" y="740">A</text></g>
<g id="d27"><circle class="nC" cx="270" cy="705" r="31"/><text x="270" y="705">C</text></g>
<g id="d28"><circle class="nG" cx="205" cy="712" r="31"/><text x="205" y="712">G</text></g>
<g id="d29"><circle class="nC" cx="148" cy="758" r="31"/><text x="148" y="758">C</text></g>
<g id="d30"><circle class="nG" cx="140" cy="832" r="31"/><text x="140" y="832">G</text></g>
<g id="d31"><circle class="nG" cx="145" cy="910" r="31"/><text x="145" y="910">G</text></g>
<g id="d32"><circle class="nA" cx="208" cy="955" r="31"/><text x="208" y="955">A</text></g>
<g id="d33"><circle class="nC" cx="275" cy="955" r="31"/><text x="275" y="955">C</text></g>
<g id="d34"><circle class="nG" cx="338" cy="928" r="31"/><text x="338" y="928">G</text></g>
<g id="d35"><circle class="nG" cx="655" cy="925" r="31"/><text x="655" y="925">G</text></g>
<g id="d36"><circle class="nC" cx="710" cy="965" r="31"/><text x="710" y="965">C</text></g>
<g id="d37"><circle class="nG" cx="740" cy="1028" r="31"/><text x="740" y="1028">G</text></g>
<g id="d38"><circle class="nG" cx="740" cy="1100" r="31"/><text x="740" y="1100">G</text></g>
<g id="d39"><circle class="nU" cx="740" cy="1172" r="31"/><text x="740" y="1172">U</text></g>
<g id="d40"><circle class="nG" cx="740" cy="1242" r="31"/><text x="740" y="1242">G</text></g>
<g id="d41"><circle class="nC" cx="740" cy="1312" r="31"/><text x="740" y="1312">C</text></g>
<g id="d42"><circle class="nC" cx="828" cy="1028" r="31"/><text x="828" y="1028">C</text></g>
<g id="d43"><circle class="nU" cx="828" cy="1100" r="31"/><text x="828" y="1100">U</text></g>
<g id="d44"><circle class="nA" cx="828" cy="1172" r="31"/><text x="828" y="1172">A</text></g>
<g id="d45"><circle class="nC" cx="828" cy="1242" r="31"/><text x="828" y="1242">C</text></g>
<g id="d46"><circle class="nG" cx="828" cy="1312" r="31"/><text x="828" y="1312">G</text></g>
<g id="d47"><circle class="nC" cx="690" cy="1365" r="31"/><text x="690" y="1365">C</text></g>
<g id="d48"><circle class="nU" cx="692" cy="1438" r="31"/><text x="692" y="1438">U</text></g>
<g id="d49"><circle class="nG" cx="752" cy="1495" r="31"/><text class="r" x="752" y="1495">G</text></g>
<g id="d50"><circle class="nU" cx="818" cy="1495" r="31"/><text class="r" x="818" y="1495">U</text></g>
<g id="d51"><circle class="nG" cx="875" cy="1435" r="31"/><text class="r" x="875" y="1435">G</text></g>
<g id="d52"><circle class="nG" cx="880" cy="1365" r="31"/><text x="880" y="1365">G</text></g>
<g id="d53"><circle class="nA" cx="868" cy="970" r="31"/><text x="868" y="970">A</text></g>
<g id="d54"><circle class="nC" cx="930" cy="935" r="31"/><text x="930" y="935">C</text></g>
<g id="d55"><circle class="nG" cx="995" cy="968" r="31"/><text x="995" y="968">G</text></g>
<g id="d56"><circle class="nC" cx="1065" cy="985" r="31"/><text x="1065" y="985">C</text></g>
<g id="d57"><circle class="nC" cx="1110" cy="930" r="31"/><text x="1110" y="930">C</text></g>
<g id="d58"><circle class="nG" cx="1065" cy="878" r="31"/><text x="1065" y="878">G</text></g>
<g id="d59"><circle class="nC" cx="1003" cy="838" r="31"/><text x="1003" y="838">C</text></g>
<g id="d60"><circle class="nC" cx="943" cy="798" r="31"/><text x="943" y="798">C</text></g>
<g id="d61"><circle class="nC" cx="988" cy="652" r="31"/><text x="988" y="652">C</text></g>
<g id="d62"><circle class="nG" cx="1060" cy="652" r="31"/><text x="1060" y="652">G</text></g>
<g id="d63"><circle class="nA" cx="1130" cy="652" r="31"/><text x="1130" y="652">A</text></g>
<g id="d64"><circle class="nC" cx="1200" cy="652" r="31"/><text x="1200" y="652">C</text></g>
<g id="d65"><circle class="nC" cx="1270" cy="652" r="31"/><text x="1270" y="652">C</text></g>
<g id="d66"><circle class="nG" cx="988" cy="740" r="31"/><text x="988" y="740">G</text></g>
<g id="d67"><circle class="nC" cx="1060" cy="740" r="31"/><text x="1060" y="740">C</text></g>
<g id="d68"><circle class="nC" cx="1130" cy="740" r="31"/><text x="1130" y="740">C</text></g>
<g id="d69"><circle class="nG" cx="1200" cy="740" r="31"/><text x="1200" y="740">G</text></g>
<g id="d70"><circle class="nG" cx="1270" cy="740" r="31"/><text x="1270" y="740">G</text></g>
<g id="d71"><circle class="nU" cx="1322" cy="600" r="31"/><text x="1322" y="600">U</text></g>
<g id="d72"><circle class="nC" cx="1390" cy="580" r="31"/><text x="1390" y="580">C</text></g>
<g id="d73"><circle class="nU" cx="1455" cy="625" r="31"/><text x="1455" y="625">U</text></g>
<g id="d74"><circle class="nU" cx="1478" cy="695" r="31"/><text x="1478" y="695">U</text></g>
<g id="d75"><circle class="nC" cx="1458" cy="768" r="31"/><text x="1458" y="768">C</text></g>
<g id="d76"><circle class="nU" cx="1387" cy="810" r="31"/><text x="1387" y="810">U</text></g>
<g id="d77"><circle class="nA" cx="1322" cy="795" r="31"/><text x="1322" y="795">A</text></g>
</g>
</g>
</svg>
